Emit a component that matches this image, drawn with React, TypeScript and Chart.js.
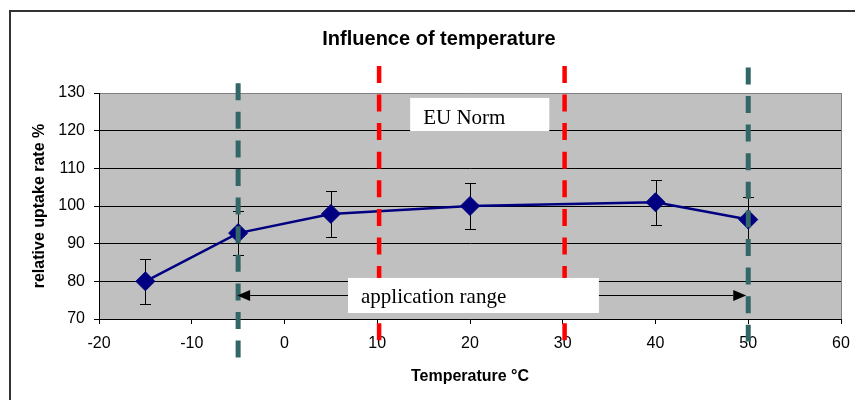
import React, { useEffect, useRef } from 'react';
import { Chart, registerables } from 'chart.js';

Chart.register(...registerables);

// ---- data ----
const chartTitle = 'Influence of temperature';
const xAxisTitle = 'Temperature °C';
const yAxisTitle = 'relative uptake rate %';

const temperatures = [-15, -5, 5, 20, 40, 50];
const uptakeRates = [80, 92.8, 97.9, 100, 101, 96.4];
const uptakeErrors = [6, 5.9, 6.1, 6.1, 6, 6.1];

const xTicks = [-20, -10, 0, 10, 20, 30, 40, 50, 60];
const yTicks = [70, 80, 90, 100, 110, 120, 130];

// vertical dashed marker lines: x position, top value, bottom value
const euNormX = [10.2, 30.2];
const euNormTop = [137.2, 137.2];
const euNormBottom = [62.2, 62.2];

const appRangeX = [-5, 50];
const appRangeTop = [132.6, 136.8];
const appRangeBottom = [59.7, 64.0];

const appArrowY = 76.35;

const euNormLabel = 'EU Norm';
const appRangeLabel = 'application range';

// label boxes in data space: [xMin, xMax, yMin, yMax]
const euNormBox = [13.55, 28.55, 119.9, 128.7];
const appRangeBox = [6.85, 33.9, 71.6, 80.9];

const SANS = "'Liberation Sans', Arial, sans-serif";
const SERIF = "'Liberation Serif', 'Times New Roman', serif";

const NAVY = '#000080';
const TEAL = '#336666';
const RED = '#ff0000';

const plotBgPlugin = {
  id: 'plotBg',
  beforeDraw(chart: any) {
    const { ctx, chartArea: a } = chart;
    ctx.save();
    ctx.fillStyle = '#c0c0c0';
    ctx.fillRect(a.left, a.top, a.right - a.left, a.bottom - a.top);
    ctx.strokeStyle = '#808080';
    ctx.lineWidth = 1;
    ctx.beginPath();
    ctx.moveTo(Math.round(a.right) + 0.5, a.top);
    ctx.lineTo(Math.round(a.right) + 0.5, a.bottom);
    ctx.stroke();
    ctx.restore();
  },
};

const errorBarPlugin = {
  id: 'errorBars',
  beforeDatasetsDraw(chart: any) {
    const { ctx } = chart;
    const x = chart.scales.x;
    const y = chart.scales.y;
    ctx.save();
    ctx.strokeStyle = '#000';
    ctx.lineWidth = 1;
    temperatures.forEach((t, i) => {
      const px = Math.round(x.getPixelForValue(t)) + 0.5;
      const top = Math.round(y.getPixelForValue(uptakeRates[i] + uptakeErrors[i])) + 0.5;
      const bot = Math.round(y.getPixelForValue(uptakeRates[i] - uptakeErrors[i])) + 0.5;
      ctx.beginPath();
      ctx.moveTo(px, top);
      ctx.lineTo(px, bot);
      ctx.moveTo(px - 5.5, top);
      ctx.lineTo(px + 5.5, top);
      ctx.moveTo(px - 5.5, bot);
      ctx.lineTo(px + 5.5, bot);
      ctx.stroke();
    });
    ctx.restore();
  },
};

const annotationPlugin = {
  id: 'annotations',
  afterDatasetsDraw(chart: any) {
    const { ctx } = chart;
    const x = chart.scales.x;
    const y = chart.scales.y;
    ctx.save();
    // double-headed arrow for the application range
    const ay = Math.round(y.getPixelForValue(appArrowY)) + 0.5;
    const x1 = x.getPixelForValue(appRangeX[0]) - 1;
    const x2 = x.getPixelForValue(appRangeX[1]) - 2;
    const headL = 13;
    const headH = 5.5;
    ctx.strokeStyle = '#000';
    ctx.fillStyle = '#000';
    ctx.lineWidth = 1;
    ctx.beginPath();
    ctx.moveTo(x1 + headL, ay);
    ctx.lineTo(x2 - headL, ay);
    ctx.stroke();
    ctx.beginPath();
    ctx.moveTo(x1, ay);
    ctx.lineTo(x1 + headL, ay - headH);
    ctx.lineTo(x1 + headL, ay + headH);
    ctx.closePath();
    ctx.fill();
    ctx.beginPath();
    ctx.moveTo(x2, ay);
    ctx.lineTo(x2 - headL, ay - headH);
    ctx.lineTo(x2 - headL, ay + headH);
    ctx.closePath();
    ctx.fill();

    const drawBox = (box: number[], label: string, padX: number, padBottom: number) => {
      const l = x.getPixelForValue(box[0]);
      const r = x.getPixelForValue(box[1]);
      const b = y.getPixelForValue(box[2]);
      const t = y.getPixelForValue(box[3]);
      ctx.fillStyle = '#ffffff';
      ctx.fillRect(l, t, r - l, b - t);
      ctx.fillStyle = '#000';
      ctx.font = `21px ${SERIF}`;
      ctx.textAlign = 'left';
      ctx.textBaseline = 'alphabetic';
      ctx.fillText(label, l + padX, b - padBottom);
    };
    drawBox(euNormBox, euNormLabel, 13, 7);
    drawBox(appRangeBox, appRangeLabel, 13, 10);
    ctx.restore();
  },
  afterDraw(chart: any) {
    const { ctx } = chart;
    ctx.save();
    ctx.fillStyle = '#000';
    ctx.font = `bold 20px ${SANS}`;
    ctx.textAlign = 'center';
    ctx.textBaseline = 'alphabetic';
    ctx.fillText(chartTitle, 439, 45);
    ctx.restore();
  },
};

function vLine(xv: number, top: number, bottom: number, color: string, width: number) {
  return {
    type: 'line' as const,
    data: [
      { x: xv, y: top },
      { x: xv, y: bottom },
    ],
    borderColor: color,
    borderWidth: width,
    borderDash: [17, 11.6],
    borderCapStyle: 'butt' as const,
    pointRadius: 0,
    pointHoverRadius: 0,
    fill: false,
    clip: false as any,
    order: 1,
  };
}

export default function App() {
  const canvasRef = useRef<HTMLCanvasElement | null>(null);

  useEffect(() => {
    if (!canvasRef.current) return;
    const datasets: any[] = [
      {
        data: temperatures.map((t, i) => ({ x: t, y: uptakeRates[i] })),
        borderColor: NAVY,
        backgroundColor: NAVY,
        borderWidth: 2.5,
        pointStyle: 'rectRot',
        pointRadius: 9.5,
        pointHoverRadius: 9.5,
        pointBorderWidth: 1,
        pointBackgroundColor: NAVY,
        pointBorderColor: NAVY,
        tension: 0,
        order: 2,
      },
    ];
    euNormX.forEach((xv, i) => datasets.push(vLine(xv, euNormTop[i], euNormBottom[i], RED, 4.5)));
    appRangeX.forEach((xv, i) => datasets.push(vLine(xv, appRangeTop[i], appRangeBottom[i], TEAL, 5)));

    const chart = new Chart(canvasRef.current, {
      type: 'line',
      data: { datasets },
      options: {
        animation: false,
        responsive: false,
        devicePixelRatio: 1,
        layout: { padding: { left: 0, right: 14, top: 93, bottom: 0 } },
        plugins: {
          legend: { display: false },
          tooltip: { enabled: false },
          title: { display: false },
        },
        events: [],
        scales: {
          x: {
            type: 'linear',
            min: xTicks[0],
            max: xTicks[xTicks.length - 1],
            afterBuildTicks: (scale: any) => {
              scale.ticks = xTicks.map((v) => ({ value: v }));
            },
            afterFit: (scale: any) => {
              scale.height = 81;
              scale.paddingLeft = 0;
              scale.paddingRight = 0;
            },
            grid: {
              drawOnChartArea: false,
              drawTicks: true,
              tickLength: 5,
              color: '#000',
              tickColor: '#000',
            },
            border: { display: true, color: '#000', width: 1 },
            ticks: {
              color: '#000',
              font: { family: SANS, size: 16 },
              padding: 10,
              maxRotation: 0,
              autoSkip: false,
            },
            title: {
              display: true,
              text: xAxisTitle,
              color: '#000',
              font: { family: SANS, size: 16, weight: 'bold' },
              padding: { top: 0, bottom: 14 },
            },
          },
          y: {
            type: 'linear',
            min: yTicks[0],
            max: yTicks[yTicks.length - 1],
            afterBuildTicks: (scale: any) => {
              scale.ticks = yTicks.map((v) => ({ value: v }));
            },
            afterFit: (scale: any) => {
              scale.width = 99;
              scale.paddingTop = 0;
              scale.paddingBottom = 0;
            },
            grid: {
              drawTicks: true,
              tickLength: 5,
              color: (ctx: any) => (ctx.tick && ctx.tick.value === yTicks[yTicks.length - 1] ? '#808080' : '#000'),
              tickColor: '#000',
              lineWidth: 1,
            },
            border: { display: true, color: '#000', width: 1 },
            ticks: {
              color: '#000',
              font: { family: SANS, size: 16 },
              padding: 9,
              autoSkip: false,
            },
            title: {
              display: true,
              text: yAxisTitle,
              color: '#000',
              font: { family: SANS, size: 16, weight: 'bold' },
              padding: { top: 30, bottom: 0 },
            },
          },
        },
      } as any,
      plugins: [plotBgPlugin, errorBarPlugin, annotationPlugin],
    });
    return () => chart.destroy();
  }, []);

  return (
    <div
      style={{
        position: 'fixed',
        left: 0,
        top: 0,
        width: 855,
        height: 400,
        overflow: 'hidden',
        background: '#fff',
      }}
    >
      <div
        style={{
          position: 'absolute',
          left: 9,
          top: 10,
          width: 900,
          height: 450,
          border: '2px solid #333',
          boxSizing: 'border-box',
        }}
      />
      <canvas
        ref={canvasRef}
        width={855}
        height={400}
        style={{ position: 'absolute', left: 0, top: 0, width: 855, height: 400 }}
      />
    </div>
  );
}
